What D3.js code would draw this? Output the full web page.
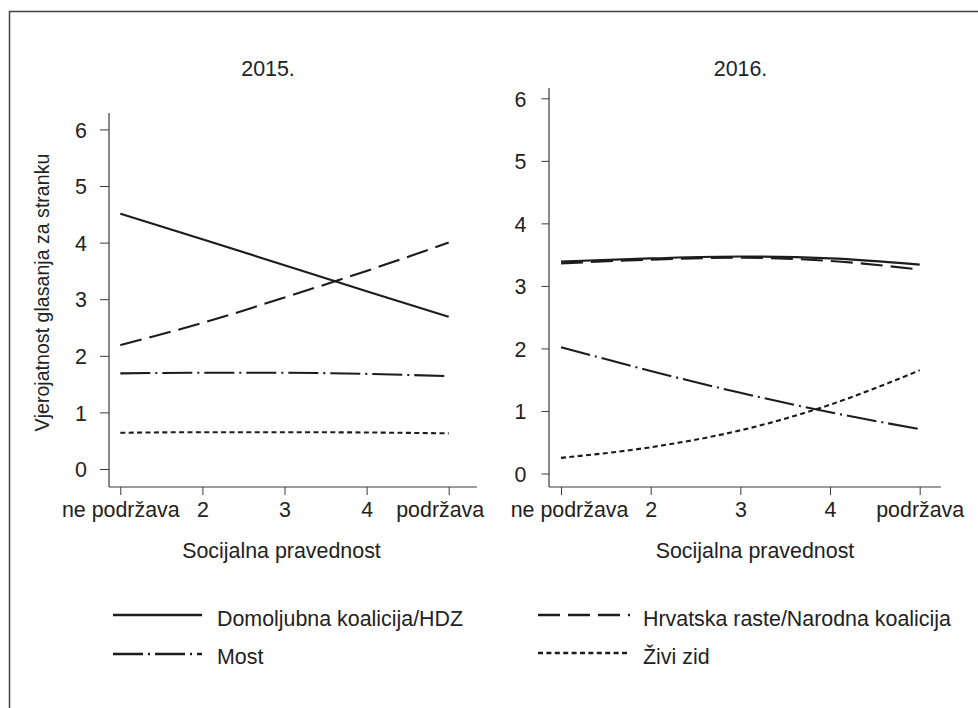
<!DOCTYPE html>
<html>
<head>
<meta charset="utf-8">
<script src="https://cdn.jsdelivr.net/npm/d3@7"></script>
<style>
  html, body { margin: 0; padding: 0; background: #fff; }
  svg { display: block; }
  text { font-family: "Liberation Sans", Arial, Helvetica, sans-serif; fill: #222; }
</style>
</head>
<body>
<svg id="chart" width="978" height="708"></svg>
<script>
// ---------------- DATA ----------------
const xValues = [1, 2, 3, 4, 5];
const xTickLabels = ["ne podržava", "2", "3", "4", "podržava"];
const yTicks = [0, 1, 2, 3, 4, 5, 6];
const panelTitles = ["2015.", "2016."];
const xAxisTitle = "Socijalna pravednost";
const yAxisTitle = "Vjerojatnost glasanja za stranku";
const seriesNames = ["Domoljubna koalicija/HDZ", "Hrvatska raste/Narodna koalicija", "Most", "Živi zid"];

const hdz2015  = [4.51, 4.06, 3.60, 3.14, 2.69];
const hrv2015  = [2.19, 2.58, 3.03, 3.50, 4.00];
const most2015 = [1.69, 1.70, 1.70, 1.68, 1.64];
const zid2015  = [0.64, 0.65, 0.65, 0.645, 0.63];

const hdz2016  = [3.39, 3.44, 3.47, 3.44, 3.34];
const hrv2016  = [3.36, 3.42, 3.45, 3.40, 3.26];
const most2016 = [2.02, 1.64, 1.29, 0.98, 0.71];
const zid2016  = [0.25, 0.42, 0.69, 1.10, 1.65];

// ---------------- STYLE ----------------
const dashes = ["none", "22,8", "30,5,2,5", "5,3.4"];
const ink = "#1c1c1c";
const axisColor = "#3a3a3a";
const fontSize = 21.4;

const svg = d3.select("#chart");

// outer frame (top & left edges)
svg.append("path")
  .attr("d", "M9.5,708 L9.5,11.5 L978,11.5")
  .attr("fill", "none").attr("stroke", "#444").attr("stroke-width", 1.5);

// ---------------- PANELS ----------------
const panels = [
  {
    title: panelTitles[0], titleX: 268,
    series: [hdz2015, hrv2015, most2015, zid2015],
    xRange: [120.3, 448.7], yRange: [469, 129.4],
    axisX: 109, axisTop: 113, axisY: 487, axisRight: 477,
    yTickLen: 9, yLabelGap: 13, xTickLen: 8, xTitleX: 281.5,
    labelShift: [0, 0, 0, 0, -9]
  },
  {
    title: panelTitles[1], titleX: 740.5,
    series: [hdz2016, hrv2016, most2016, zid2016],
    xRange: [561, 919.7], yRange: [473.5, 98.3],
    axisX: 549, axisTop: 88, axisY: 487, axisRight: 941,
    yTickLen: 7.5, yLabelGap: 15, xTickLen: 8, xTitleX: 755,
    labelShift: [8, 0, 0, 0, 0]
  }
];

panels.forEach(p => {
  const x = d3.scaleLinear().domain([1, 5]).range(p.xRange);
  const y = d3.scaleLinear().domain([0, 6]).range(p.yRange);
  const g = svg.append("g");

  // title
  g.append("text").attr("x", p.titleX).attr("y", 76)
    .attr("text-anchor", "middle").style("font-size", fontSize + "px")
    .text(p.title);

  // y axis
  const yAxis = d3.axisLeft(y).tickValues(yTicks).tickSize(p.yTickLen)
    .tickFormat(d3.format("d"));
  const ya = g.append("g").attr("transform", `translate(${p.axisX},0)`).call(yAxis);
  ya.select(".domain").remove();
  ya.selectAll(".tick line").attr("stroke", axisColor).attr("stroke-width", 1);
  ya.selectAll(".tick text").style("font-size", fontSize + "px")
    .attr("font-family", null).attr("fill", "#222")
    .attr("x", -(p.yTickLen + p.yLabelGap)).attr("dy", "0.36em");
  g.append("line").attr("x1", p.axisX).attr("x2", p.axisX)
    .attr("y1", p.axisTop).attr("y2", p.axisY)
    .attr("stroke", axisColor).attr("stroke-width", 1.2);

  // x axis
  const xAxis = d3.axisBottom(x).tickValues(xValues).tickSize(p.xTickLen)
    .tickFormat((d, i) => xTickLabels[i]);
  const xa = g.append("g").attr("transform", `translate(0,${p.axisY})`).call(xAxis);
  xa.select(".domain").remove();
  xa.selectAll(".tick line").attr("stroke", axisColor).attr("stroke-width", 1);
  xa.selectAll(".tick text").style("font-size", fontSize + "px")
    .attr("font-family", null).attr("fill", "#222")
    .attr("x", (d, i) => p.labelShift[i])
    .attr("y", 30).attr("dy", 0);
  g.append("line").attr("x1", p.axisX).attr("x2", p.axisRight)
    .attr("y1", p.axisY).attr("y2", p.axisY)
    .attr("stroke", axisColor).attr("stroke-width", 1.2);

  // x title
  g.append("text").attr("x", p.xTitleX).attr("y", 558)
    .attr("text-anchor", "middle").style("font-size", fontSize + "px")
    .text(xAxisTitle);

  // lines
  const line = d3.line().x((d, i) => x(xValues[i])).y(d => y(d)).curve(d3.curveMonotoneX);
  p.series.forEach((s, k) => {
    g.append("path").datum(s).attr("d", line)
      .attr("fill", "none").attr("stroke", ink).attr("stroke-width", 2.1)
      .attr("stroke-dasharray", dashes[k]);
  });
});

// y axis title
svg.append("text")
  .attr("transform", "translate(49,292.5) rotate(-90)")
  .attr("text-anchor", "middle").style("font-size", "19.6px")
  .text(yAxisTitle);

// ---------------- LEGEND ----------------
const legendPos = [
  { lx1: 113, lx2: 202, ly: 615, tx: 217, ty: 625.5 },
  { lx1: 538, lx2: 630, ly: 615, tx: 643, ty: 625.5 },
  { lx1: 113, lx2: 202, ly: 654, tx: 217, ty: 663.5 },
  { lx1: 538, lx2: 630, ly: 653, tx: 643, ty: 663.5 }
];
const leg = svg.append("g");
seriesNames.forEach((name, k) => {
  const lp = legendPos[k];
  leg.append("line").attr("x1", lp.lx1).attr("x2", lp.lx2)
    .attr("y1", lp.ly).attr("y2", lp.ly)
    .attr("stroke", ink).attr("stroke-width", 2.6)
    .attr("stroke-dasharray", dashes[k]);
  leg.append("text").attr("x", lp.tx).attr("y", lp.ty)
    .style("font-size", fontSize + "px").text(name);
});
</script>
</body>
</html>
